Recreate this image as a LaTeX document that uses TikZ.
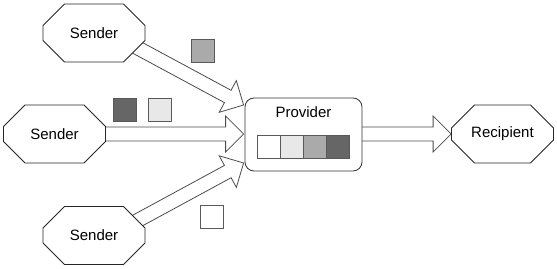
\documentclass[tikz,border=0pt]{standalone}
\usepackage{fontspec}
\setmainfont{Liberation Sans}
\usetikzlibrary{calc,shapes.misc,backgrounds}
\definecolor{cellA}{HTML}{FFFFFF}
\definecolor{cellB}{HTML}{E8E8E8}
\definecolor{cellC}{HTML}{AAAAAA}
\definecolor{cellD}{HTML}{666666}
\begin{document}
\begin{tikzpicture}[x=1pt, y=1pt,
    octa/.style={draw=black!85, fill=white, line width=0.8pt, chamfered rectangle,
                 chamfered rectangle xsep=28pt, chamfered rectangle ysep=16pt,
                 minimum width=102pt, minimum height=58pt, inner sep=0pt,
                 font=\fontsize{15}{18}\selectfont},
    box/.style={draw=black!80, fill=white, line width=0.8pt, rounded corners=9pt,
                minimum width=117pt, minimum height=73pt},
    cell/.style={draw=black!65, line width=0.8pt, minimum size=23pt, inner sep=0pt},
    fat/.style={draw=black!70, fill=white, line width=0.8pt, to path={
        ($(\tikztostart)!7pt!90:(\tikztotarget)$)
        -- ($ ($(\tikztotarget)!18pt!(\tikztostart)$) !7pt!-90:(\tikztostart) $)
        -- ($ ($(\tikztotarget)!18pt!(\tikztostart)$) !18pt!-90:(\tikztostart) $)
        -- (\tikztotarget)
        -- ($ ($(\tikztotarget)!18pt!(\tikztostart)$) !18pt!90:(\tikztostart) $)
        -- ($ ($(\tikztotarget)!18pt!(\tikztostart)$) !7pt!90:(\tikztostart) $)
        -- ($(\tikztostart)!7pt!-90:(\tikztotarget)$) -- cycle}}
]
\useasboundingbox (0,0) rectangle (557,268);

% Senders
\node[octa] (s1) at (94, 235) {Sender};
\node[octa] (s2) at (54.5, 134) {Sender};
\node[octa] (s3) at (94, 32.5) {Sender};

% Provider with its queue
\node[box] (prov) at (303.5, 133.5) {};
\node[font=\fontsize{15}{18}\selectfont] (provlabel) at ($(prov.center)+(0, 22.5)$) {Provider};
\foreach \i/\c in {0/cellA, 1/cellB, 2/cellC, 3/cellD}
  \node[cell, fill=\c] (q\i) at ($(prov.center)+({-34.5+23*\i}, -12)$) {};

% Recipient
\node[octa] (rec) at (502.5, 134) {Recipient};

% Messages in transit
\node[cell, fill=cellC] (m1) at (202.5, 217.5) {};
\node[cell, fill=cellD] (m2) at (125, 158.5) {};
\node[cell, fill=cellB] (m3) at (160, 158.5) {};
\node[cell, fill=cellA] (m4) at (211.5, 51) {};

% Arrows
\coordinate (a1) at ($(s1.center)+(16, 0)$);
\coordinate (a3) at ($(s3.center)+(16, 0)$);
\coordinate (a4) at (prov.center |- rec.west);
\coordinate (t1) at ($(prov.west)+(-1, 29.5)$);
\coordinate (t2) at ($(prov.west)+(-1, 0.5)$);
\coordinate (t3) at ($(prov.west)+(-1, -28.5)$);
\begin{scope}[on background layer]
\draw[fat] (a1) to (t1);
\draw[fat] (s2) to (t2);
\draw[fat] (a3) to (t3);
\draw[fat] (a4) to (rec.west);
\end{scope}
\end{tikzpicture}
\end{document}
